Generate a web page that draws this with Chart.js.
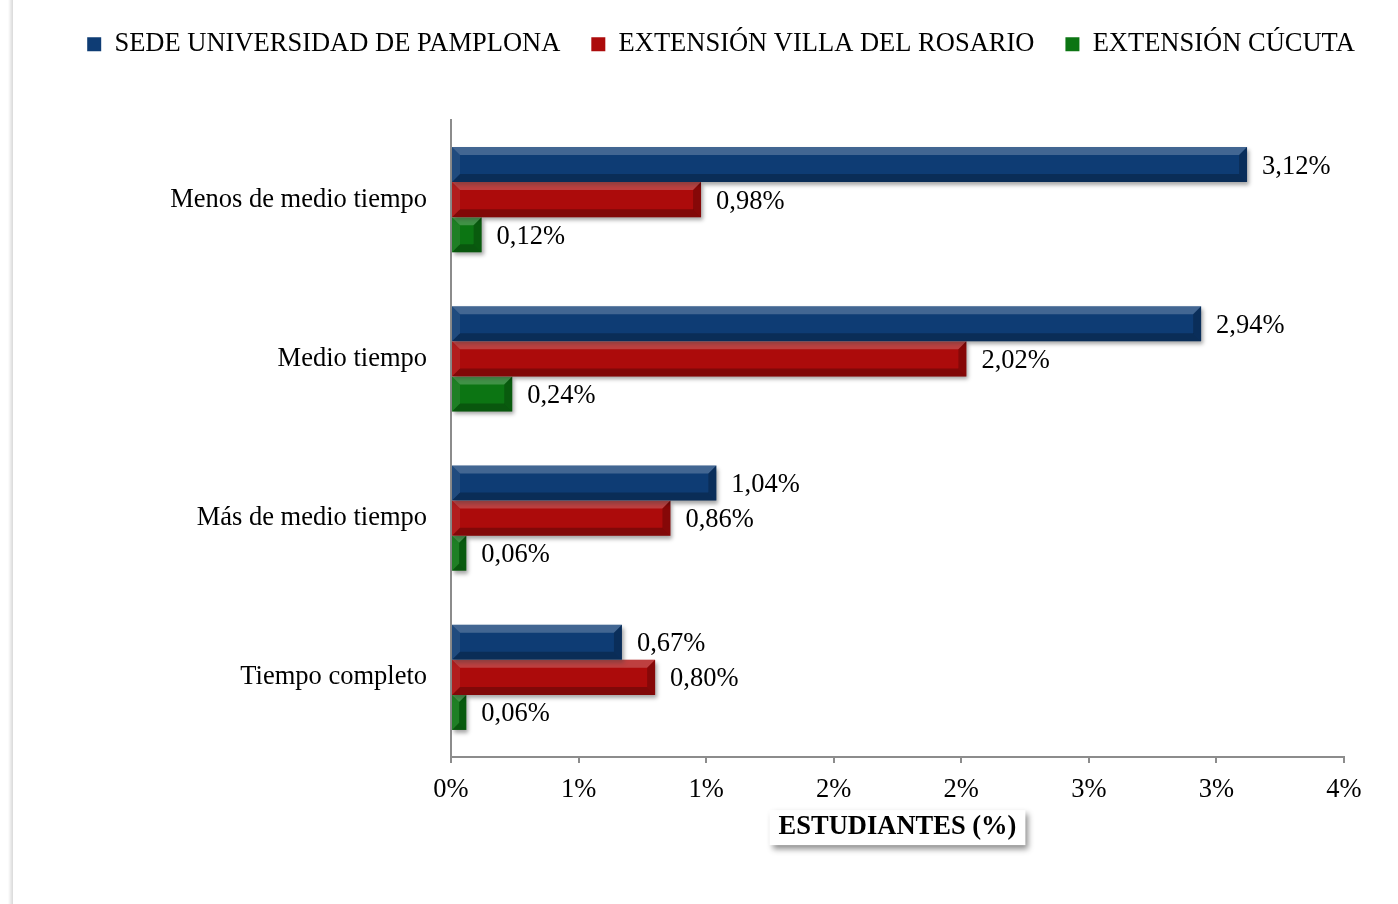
<!DOCTYPE html>
<html>
<head>
<meta charset="utf-8">
<script src="https://cdn.jsdelivr.net/npm/chart.js@4.4.1/dist/chart.umd.min.js"></script>
<style>
    body { margin: 0; background: #ffffff; }
    #wrap { width: 1398px; height: 904px; position: relative; }
</style>
</head>
<body>
<div id="wrap"><canvas id="jornada_chart"></canvas></div>
<script>
const categories = ["Menos de medio tiempo", "Medio tiempo", "Más de medio tiempo", "Tiempo completo"];
const series_names = ["SEDE UNIVERSIDAD DE PAMPLONA", "EXTENSIÓN VILLA DEL ROSARIO", "EXTENSIÓN CÚCUTA"];
const pamplona_values = [3.12, 2.94, 1.04, 0.67];
const villa_rosario_values = [0.98, 2.02, 0.86, 0.80];
const cucuta_values = [0.12, 0.24, 0.06, 0.06];
const x_tick_labels = ["0%", "1%", "1%", "2%", "2%", "3%", "3%", "4%"];
const axis_title = "ESTUDIANTES (%)";

const serif = "'Liberation Serif', 'Times New Roman', serif";
const font_size = 26.5;

// sombra de las barras
const bar_shadow =
{
    id: "bar_shadow",
    beforeDatasetsDraw(chart)
    {
        const ctx = chart.ctx;
        ctx.save();
        ctx.shadowColor = "rgba(0, 0, 0, 0.35)";
        ctx.shadowBlur = 4;
        ctx.shadowOffsetX = 2;
        ctx.shadowOffsetY = 3;
    },
    afterDatasetsDraw(chart)
    {
        const ctx = chart.ctx;
        ctx.restore();

        // biselado tipo Excel + etiquetas
        chart.data.datasets.forEach((ds, di) =>
        {
            const meta = chart.getDatasetMeta(di);
            meta.data.forEach((bar, i) =>
            {
                const l = Math.min(bar.base, bar.x);
                const r = Math.max(bar.base, bar.x);
                const t = bar.y - bar.height / 2;
                const b = bar.y + bar.height / 2;
                const bw = Math.min(8, (r - l) / 2);
                const poly = (pts, color) =>
                {
                    ctx.beginPath();
                    ctx.moveTo(pts[0][0], pts[0][1]);
                    for (let k = 1; k < pts.length; k++) ctx.lineTo(pts[k][0], pts[k][1]);
                    ctx.closePath();
                    ctx.fillStyle = color;
                    ctx.fill();
                };
                ctx.save();
                poly([[l, t], [r, t], [r - bw, t + bw], [l + bw, t + bw]], "rgba(255,255,255,0.22)");
                poly([[l, b], [r, b], [r - bw, b - bw], [l + bw, b - bw]], "rgba(0,0,0,0.25)");
                poly([[l, t], [l + bw, t + bw], [l + bw, b - bw], [l, b]], "rgba(255,255,255,0.08)");
                poly([[r, t], [r - bw, t + bw], [r - bw, b - bw], [r, b]], "rgba(0,0,0,0.22)");

                const value = ds.data[i];
                ctx.fillStyle = "#000";
                ctx.font = font_size + "px " + serif;
                ctx.textAlign = "left";
                ctx.textBaseline = "middle";
                ctx.fillText(value.toFixed(2).replace(".", ",") + "%", r + 15, bar.y + 2);
                ctx.restore();
            });
        });
    }
};

// recuadro con sombra para el título del eje
const title_box =
{
    id: "title_box",
    beforeInit(chart)
    {
        // altura fija de la leyenda para que el área empiece donde en el original
        const fit = chart.legend.fit;
        chart.legend.fit = function ()
        {
            fit.bind(this)();
            this.height = 120;
        };
    },
    beforeDraw(chart)
    {
        const ctx = chart.ctx;
        // borde izquierdo de la diapositiva
        ctx.save();
        const g = ctx.createLinearGradient(8, 0, 13, 0);
        g.addColorStop(0, "rgba(0,0,0,0)");
        g.addColorStop(1, "rgba(0,0,0,0.15)");
        ctx.fillStyle = g;
        ctx.fillRect(8, 0, 5, chart.height);
        ctx.restore();

        const xs = chart.scales.x;
        const opt = xs.options.title;
        ctx.save();
        ctx.font = "bold " + font_size + "px " + serif;
        const w = ctx.measureText(axis_title).width;
        const lh = font_size * 1.2;
        const cy = xs.bottom - lh / 2 - opt.padding.bottom;
        const cx = (chart.chartArea.left + chart.chartArea.right) / 2;
        ctx.shadowColor = "rgba(0, 0, 0, 0.45)";
        ctx.shadowBlur = 6;
        ctx.shadowOffsetX = 3;
        ctx.shadowOffsetY = 4;
        ctx.fillStyle = "#ffffff";
        ctx.fillRect(cx - w / 2 - 9, cy - 17, w + 18, 35);
        ctx.restore();
    }
};

const jornada_chart = new Chart("jornada_chart",
{
    type: "bar",
    data:
    {
        labels: categories,
        datasets:
        [
            {
                label: series_names[0],
                data: pamplona_values,
                backgroundColor: "#0e3c74",
                borderWidth: 0
            },
            {
                label: series_names[1],
                data: villa_rosario_values,
                backgroundColor: "#ac0b0b",
                borderWidth: 0
            },
            {
                label: series_names[2],
                data: cucuta_values,
                backgroundColor: "#0c7513",
                borderWidth: 0
            }
        ]
    },
    options:
    {
        indexAxis: "y",
        responsive: true,
        maintainAspectRatio: false,
        animation: false,
        categoryPercentage: 0.66,
        barPercentage: 1.0,
        layout:
        {
            padding: { left: 49, right: 5, top: 0, bottom: 61 }
        },
        plugins:
        {
            legend:
            {
                display: true,
                position: "top",
                labels:
                {
                    boxWidth: 14,
                    boxHeight: 14,
                    padding: 31,
                    color: "#000",
                    font: { family: serif, size: font_size }
                }
            },
            tooltip: { enabled: false }
        },
        scales:
        {
            x:
            {
                min: 0,
                max: 3.5,
                afterFit: (scale) => { scale.height = 86; scale.paddingRight = 54; },
                ticks:
                {
                    stepSize: 0.5,
                    color: "#000",
                    padding: 11,
                    font: { family: serif, size: font_size },
                    callback: (value, index) => x_tick_labels[index]
                },
                grid:
                {
                    display: true,
                    drawOnChartArea: false,
                    drawTicks: true,
                    tickLength: 6,
                    color: "#8c8c8c",
                    lineWidth: 2
                },
                border: { display: true, color: "#8c8c8c", width: 2 },
                title:
                {
                    display: true,
                    text: axis_title,
                    color: "#000",
                    font: { family: serif, size: font_size, weight: "bold" },
                    padding: { top: 0, bottom: 0 }
                }
            },
            y:
            {
                afterFit: (scale) => { scale.width = 402; },
                ticks:
                {
                    color: "#000",
                    padding: 16,
                    font: { family: serif, size: font_size }
                },
                grid: { display: false },
                border: { display: true, color: "#8c8c8c", width: 2 }
            }
        }
    },
    plugins: [bar_shadow, title_box]
});
</script>
</body>
</html>
